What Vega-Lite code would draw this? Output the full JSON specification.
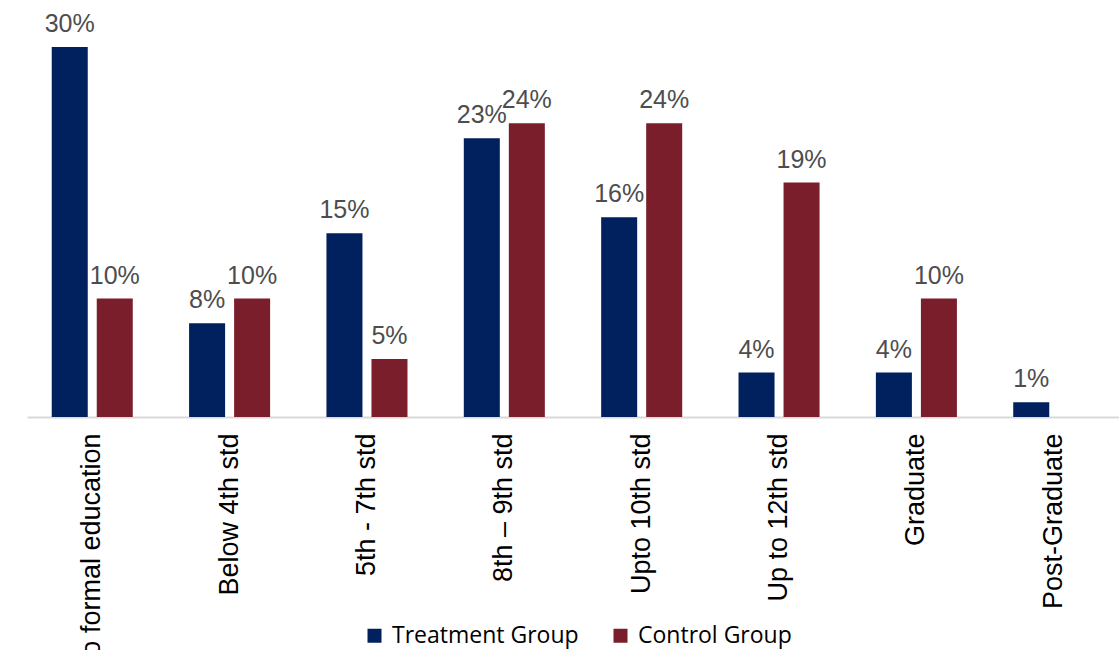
{
  "$schema": "https://vega.github.io/schema/vega-lite/v6.json",
  "autosize": {"type": "none"},
  "padding": {"left": 27, "top": 0, "right": 0, "bottom": 233},
  "width": 1092,
  "height": 417,
  "background": "white",
  "config": {"view": {"stroke": null}, "font": "Liberation Sans"},
  "data": {
    "values": [
      {"level": "No formal education", "group": "Treatment Group", "share": 0.300},
      {"level": "No formal education", "group": "Control Group", "share": 0.096},
      {"level": "Below 4th std", "group": "Treatment Group", "share": 0.076},
      {"level": "Below 4th std", "group": "Control Group", "share": 0.096},
      {"level": "5th - 7th std", "group": "Treatment Group", "share": 0.149},
      {"level": "5th - 7th std", "group": "Control Group", "share": 0.047},
      {"level": "8th – 9th std", "group": "Treatment Group", "share": 0.226},
      {"level": "8th – 9th std", "group": "Control Group", "share": 0.238},
      {"level": "Upto 10th std", "group": "Treatment Group", "share": 0.162},
      {"level": "Upto 10th std", "group": "Control Group", "share": 0.238},
      {"level": "Up to 12th std", "group": "Treatment Group", "share": 0.036},
      {"level": "Up to 12th std", "group": "Control Group", "share": 0.190},
      {"level": "Graduate", "group": "Treatment Group", "share": 0.036},
      {"level": "Graduate", "group": "Control Group", "share": 0.096},
      {"level": "Post-Graduate", "group": "Treatment Group", "share": 0.012}
    ]
  },
  "encoding": {
    "x": {
      "field": "level",
      "type": "nominal",
      "sort": null,
      "scale": {"paddingInner": 0.41, "paddingOuter": 0.18},
      "axis": {
        "title": null,
        "labelAngle": -90,
        "labelAlign": "right",
        "labelBaseline": "middle",
        "labelFont": "Liberation Sans",
        "labelFontSize": 27,
        "labelColor": "#000000",
        "labelPadding": 16,
        "labelLimit": 0,
        "ticks": false,
        "domainColor": "#d9d9d9",
        "domainWidth": 2
      }
    },
    "xOffset": {
      "field": "group",
      "type": "nominal",
      "sort": ["Treatment Group", "Control Group"],
      "scale": {"paddingInner": 0.2, "paddingOuter": 0}
    },
    "y": {
      "field": "share",
      "type": "quantitative",
      "scale": {"domain": [0, 0.338], "nice": false, "zero": true},
      "axis": null
    }
  },
  "layer": [
    {
      "mark": {"type": "bar"},
      "encoding": {
        "color": {
          "field": "group",
          "type": "nominal",
          "sort": ["Treatment Group", "Control Group"],
          "scale": {"domain": ["Treatment Group", "Control Group"], "range": ["#00205E", "#7B1E2B"]},
          "legend": {
            "title": null,
            "orient": "none",
            "direction": "horizontal",
            "legendX": 336,
            "legendY": 624,
            "symbolType": "square",
            "symbolSize": 196,
            "symbolStrokeWidth": 0,
            "labelFont": "Open Sans",
            "labelFontSize": 23,
            "labelColor": "#000000",
            "labelOffset": 6,
            "columnPadding": 30,
            "labelLimit": 0
          }
        }
      }
    },
    {
      "mark": {"type": "text", "baseline": "alphabetic", "dy": -15, "fontSize": 25, "font": "Liberation Sans", "color": "#4d4d4d"},
      "encoding": {
        "text": {"field": "share", "type": "quantitative", "format": ".0%"}
      }
    }
  ]
}
